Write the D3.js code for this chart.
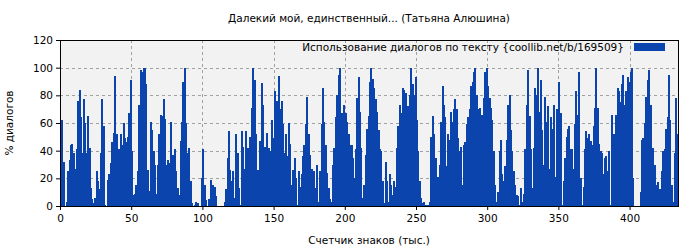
<!DOCTYPE html>
<html>
<head>
<meta charset="utf-8">
<script src="https://cdn.jsdelivr.net/npm/d3@7"></script>
<style>
  body { margin: 0; background: #fff; }
  text { font-family: "DejaVu Sans", sans-serif; }
</style>
</head>
<body>
<div id="chart"></div>
<script>
const title = "Далекий мой, единственный... (Татьяна Алюшина)";
const legendLabel = "Использование диалогов по тексту {coollib.net/b/169509}";
const xLabel = "Счетчик знаков (тыс.)";
const yLabel = "% диалогов";
const xTicks = [0, 50, 100, 150, 200, 250, 300, 350, 400];
const yTicks = [0, 20, 40, 60, 80, 100, 120];

// % of dialogue per 1000 chars
const part1 = [44,62,32,0,3,25,33,44,45,38,27,41,76,84,64,38,77,60,38,65,42,13,5,2,6,25,18,12,38,77,58,1,0,19,23,31,46];
const part2 = [53,94,52,18,41,52,44,60,49,46,50,67,91,40,8,9,15,25,73,98,97,100,100,88,26,11,61,55,40,30,9,30,52,66,65,77];
const part3 = [63,30,33,31,61,36,37,41,25,13,8,47,61,90,100,60,38,42,18,2,0,1,3,2,0,0,20,41,15,4,0,5,19,9,15,14];
const part4 = [7,0,0,0,0,0,3,12,35,54,26,18,25,6,52,38,13,1,54,43,27,54,42,17,50,71,100,91,52,26,9,47,89,73,43,26,53,42];
const part5 = [40,62,49,83,64,76,94,70,76,59,38,52,36,60,45,15,26,35,20,1,25,14,23,36,44,59,79,52,37,27,20,25,13,30,3,25];
const part6 = [59,85,61,44,24,13,5,3,30,42,64,80,95,100,67,65,73,67,61,52,42,44,35,20,41,78,93,68,42,6,15,37,56,65,90,100];
const part7 = [92,85,77,68,55,41,40,18,2,32,18,3,23,15,8,18,14,42,58,73,67,85,84,82,70,72,80,100,88,80,93,62,40,18,6,2,3];
const part8 = [1,0,1,3,50,65,52,35,11,21,30,61,87,73,64,29,52,48,68,61,70,77,70,49,40,43,15,44,46,59,64,70,87,90,97,100];
const part9 = [80,70,71,64,66,78,97,100,87,78,71,62,40,15,3,10,40,48,23,18,29,48,73,80,55,40,25,15,8,7,1,13,3,9,41,73,98];
const part10 = [65,41,13,42,85,80,100,68,91,55,30,79,61,72,27,64,56,73,21,70,58,90,67,1,18,35,50,56,58,41,41,27,59,83,66,97];
const part11 = [20,1,14,41,54,49,52,47,44,58,71,100,71,45,40,38,23,35,36,25,40,1,66,52,49,66,85,83,75,88,95,73,83,93,90,97,100];
const part12 = [20,0,0,0,0,10,48,49,60,79,91,98,73,37,42,30,15,17,8,12,25,40,41,56,64,95,62,15,3,38,78,52];

const values = [].concat(part1, part2, part3, part4, part5, part6, part7, part8, part9, part10, part11, part12);

const W = 700, H = 250;
const margin = {top: 40, right: 22, bottom: 44, left: 60};
const width = W - margin.left - margin.right;
const height = H - margin.top - margin.bottom;
const barColor = "#0a44ac";
const fs = "10.5px";

const svg = d3.select("#chart").append("svg")
  .attr("width", W)
  .attr("height", H);

const g = svg.append("g")
  .attr("transform", `translate(${margin.left},${margin.top})`);

const x = d3.scaleLinear().domain([0, values.length]).range([0, width]);
const y = d3.scaleLinear().domain([0, 120]).range([height, 0]);

g.append("rect")
  .attr("width", width)
  .attr("height", height)
  .attr("fill", "#f2f2f2");

// grid
g.append("g")
  .selectAll("line")
  .data(yTicks.filter(d => d > 0 && d < 120))
  .join("line")
  .attr("x1", 0).attr("x2", width)
  .attr("y1", d => Math.round(y(d)) + 0.5).attr("y2", d => Math.round(y(d)) + 0.5)
  .attr("stroke", "#a0a0a0")
  .attr("stroke-dasharray", "3,3");
g.append("g")
  .selectAll("line")
  .data(xTicks.filter(d => d > 0))
  .join("line")
  .attr("x1", d => Math.round(x(d)) + 0.5).attr("x2", d => Math.round(x(d)) + 0.5)
  .attr("y1", 0).attr("y2", height)
  .attr("stroke", "#a0a0a0")
  .attr("stroke-dasharray", "3,3");

g.append("g")
  .attr("shape-rendering", "crispEdges")
  .selectAll("rect")
  .data(values)
  .join("rect")
  .attr("x", (d, i) => x(i))
  .attr("y", d => y(d))
  .attr("width", x(1) - x(0) + 0.6)
  .attr("height", d => height - y(d))
  .attr("fill", barColor);

// frame
g.append("rect")
  .attr("x", 0.5).attr("y", 0.5)
  .attr("width", width).attr("height", height)
  .attr("fill", "none")
  .attr("stroke", "#000");

const xAxis = g.append("g")
  .attr("transform", `translate(0,${height})`)
  .call(d3.axisBottom(x).tickValues(xTicks).tickSize(4).tickSizeOuter(0));
const yAxis = g.append("g")
  .call(d3.axisLeft(y).tickValues(yTicks).tickSize(4).tickSizeOuter(0));
[xAxis, yAxis].forEach(a => {
  a.select(".domain").remove();
  a.selectAll("text").style("font-size", fs).style("font-family", "DejaVu Sans").attr("fill", "#000");
});
xAxis.selectAll("text").attr("dy", "0.9em");

svg.append("text")
  .attr("x", margin.left + width / 2)
  .attr("y", 22)
  .attr("text-anchor", "middle")
  .style("font-size", fs)
  .text(title);

svg.append("text")
  .attr("x", margin.left + width / 2)
  .attr("y", 244)
  .attr("text-anchor", "middle")
  .style("font-size", fs)
  .text(xLabel);

svg.append("text")
  .attr("transform", `translate(13,${margin.top + height / 2}) rotate(-90)`)
  .attr("text-anchor", "middle")
  .style("font-size", fs)
  .text(yLabel);

// legend
svg.append("text")
  .attr("x", 624)
  .attr("y", 51)
  .attr("text-anchor", "end")
  .style("font-size", fs)
  .text(legendLabel);
svg.append("rect")
  .attr("x", 634).attr("y", 43)
  .attr("width", 31).attr("height", 8)
  .attr("fill", barColor);
</script>
</body>
</html>
